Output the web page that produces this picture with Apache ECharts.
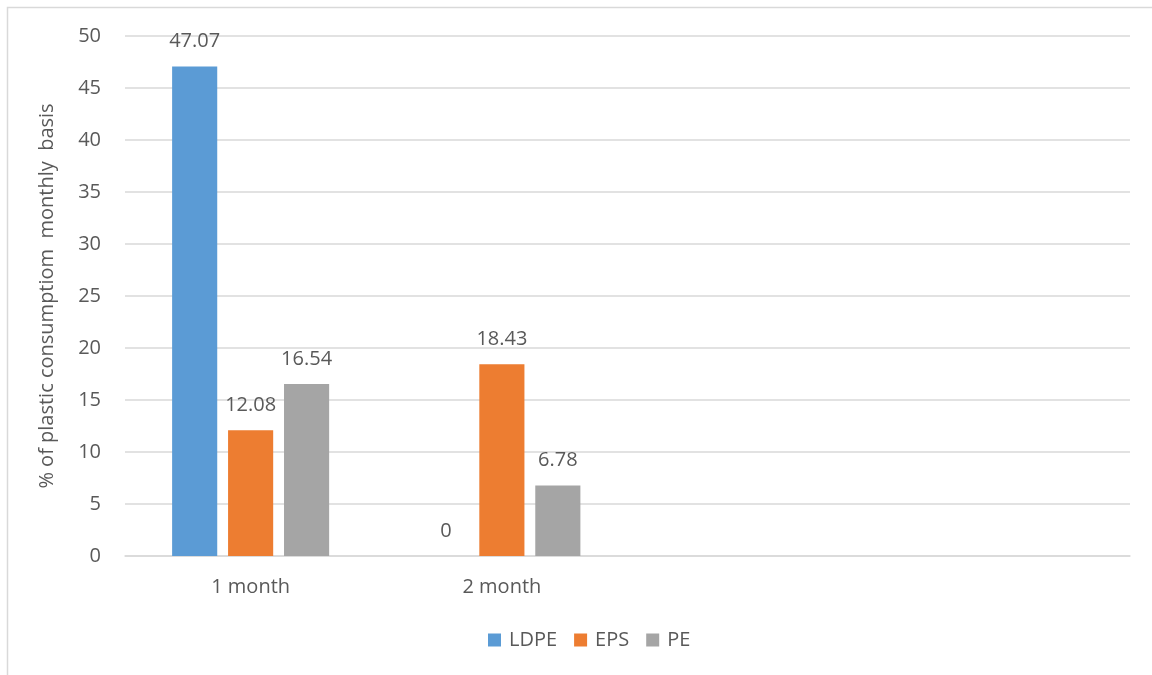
<!DOCTYPE html>
<html>
<head>
<meta charset="utf-8">
<script src="https://cdn.jsdelivr.net/npm/echarts@6/dist/echarts.min.js"></script>
<style>
  html, body { margin: 0; padding: 0; background: #ffffff; }
  #chart { width: 1152px; height: 675px; }
</style>
</head>
<body>
<div id="chart"></div>
<script>
// Monthly plastic consumption share by polymer type
const categories = ['1 month', '2 month', '', ''];
const ldpe = [47.07, 0, null, null];
const eps = [12.08, 18.43, null, null];
const pe = [16.54, 6.78, null, null];
const yTicks = { min: 0, max: 50, interval: 5 };

const textColor = '#595959';
const fontFamily = '"Open Sans", "DejaVu Sans", sans-serif';

const labelStyle = {
  show: true,
  position: 'top',
  distance: 15,
  color: textColor,
  fontFamily: fontFamily,
  fontSize: 20
};

function barSeries(name, data, color) {
  return {
    name: name,
    type: 'bar',
    data: data,
    barGap: '24%',
    barCategoryGap: '37.5%',
    itemStyle: { color: color },
    label: labelStyle,
    emphasis: { disabled: true }
  };
}

const chart = echarts.init(document.getElementById('chart'), null, { renderer: 'canvas' });
chart.setOption({
  animation: false,
  backgroundColor: '#ffffff',
  textStyle: { fontFamily: fontFamily },
  graphic: [{
    type: 'rect',
    shape: { x: 7.5, y: 7.5, width: 1160, height: 680 },
    style: { fill: 'none', stroke: '#d9d9d9', lineWidth: 1.5 },
    silent: true
  }],
  grid: { left: 125, right: 22, top: 36, bottom: 119 },
  legend: {
    bottom: 20,
    left: 483,
    itemWidth: 13,
    itemHeight: 13,
    itemGap: 17,
    icon: 'rect',
    textStyle: { color: textColor, fontSize: 20, fontFamily: fontFamily, padding: [0, 0, 0, 3] },
    data: ['LDPE', 'EPS', 'PE']
  },
  xAxis: {
    type: 'category',
    data: categories,
    axisLine: { show: true, lineStyle: { color: '#d9d9d9', width: 1.5 } },
    axisTick: { show: false },
    axisLabel: { color: textColor, fontSize: 20, margin: 21, fontFamily: fontFamily },
    splitLine: { show: false }
  },
  yAxis: {
    type: 'value',
    min: yTicks.min,
    max: yTicks.max,
    interval: yTicks.interval,
    name: '% of plastic consumptiom  monthly  basis',
    nameLocation: 'middle',
    nameGap: 68,
    nameTextStyle: { color: textColor, fontSize: 20, fontFamily: fontFamily },
    axisLine: { show: false },
    axisTick: { show: false },
    axisLabel: { color: textColor, fontSize: 20, margin: 24, fontFamily: fontFamily },
    splitLine: { lineStyle: { color: '#d9d9d9', width: 1.5 } }
  },
  series: [
    barSeries('LDPE', ldpe, '#5B9BD5'),
    barSeries('EPS', eps, '#ED7D31'),
    barSeries('PE', pe, '#A5A5A5')
  ]
});
</script>
</body>
</html>
